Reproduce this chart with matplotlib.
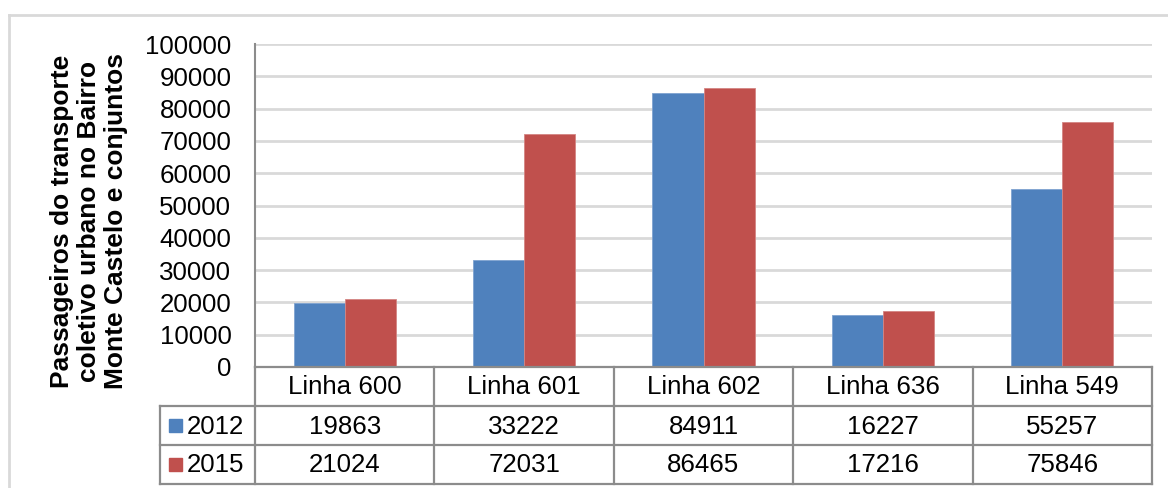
import matplotlib
matplotlib.use("Agg")
import matplotlib.pyplot as plt
from matplotlib.patches import Rectangle
from matplotlib.lines import Line2D

# Passenger counts per bus line
categories = ["Linha 600", "Linha 601", "Linha 602", "Linha 636", "Linha 549"]
series_names = ["2012", "2015"]
values_2012 = [19863, 33222, 84911, 16227, 55257]
values_2015 = [21024, 72031, 86465, 17216, 75846]
yticks = [0, 10000, 20000, 30000, 40000, 50000, 60000, 70000, 80000, 90000, 100000]
ylabel = "Passageiros do transporte\ncoletivo urbano no Bairro\nMonte Castelo e conjuntos"

colors = ["#4F81BD", "#C0504D"]
grid_color = "#D9D9D9"
line_color = "#8C8C8C"
font = ["Liberation Sans", "DejaVu Sans"]
plt.rcParams["font.family"] = font
fs = 18.6

W, H = 1168, 488
fig = plt.figure(figsize=(W / 100, H / 100), dpi=100)
fig.patch.set_facecolor("white")

# pixel layout of the plot area
px_left, px_right, px_top, px_bottom = 255, 1152, 44, 367
ax = fig.add_axes([px_left / W, 1 - px_bottom / H,
                   (px_right - px_left) / W, (px_bottom - px_top) / H])

n = len(categories)
bw = 0.285
xs = list(range(n))
ax.bar([x - bw / 2 for x in xs], values_2012, width=bw, color=colors[0],
       edgecolor="#7FA3D0", linewidth=0.6, zorder=3)
ax.bar([x + bw / 2 for x in xs], values_2015, width=bw, color=colors[1],
       edgecolor="#D48583", linewidth=0.6, zorder=3)
ax.set_xlim(-0.5, n - 0.5)
ax.set_ylim(0, 100000)
ax.set_yticks(yticks)
ax.set_yticklabels([str(t) for t in yticks], fontsize=fs)
ax.tick_params(axis="y", length=0, pad=17)
ax.set_xticks([])
ax.yaxis.grid(True, color=grid_color, linewidth=2)
ax.set_axisbelow(True)
for s in ["top", "right", "bottom"]:
    ax.spines[s].set_visible(False)
ax.spines["left"].set_color(line_color)
ax.spines["left"].set_linewidth(1.5)

# overlay in pixel coordinates for the data table and frame
ov = fig.add_axes([0, 0, 1, 1], facecolor="none")
ov.set_xlim(0, W)
ov.set_ylim(H, 0)
ov.axis("off")

# outer chart frame
ov.add_line(Line2D([9, 9], [15, H], color=grid_color, lw=2))
ov.add_line(Line2D([9, W], [15, 15], color=grid_color, lw=2))

# y label
ov.text(89, 221, ylabel, rotation=90, ha="center", va="center",
        fontsize=19, fontweight="bold", linespacing=1.15)

# data table
leg_left = 160
rows_y = [px_bottom, 406, 445, 484]
colw = (px_right - px_left) / n
tl = dict(color=line_color, lw=1.6)
ov.add_line(Line2D([px_left, px_right], [rows_y[0], rows_y[0]], **tl))
for yy in rows_y[1:]:
    ov.add_line(Line2D([leg_left, px_right], [yy, yy], **tl))
ov.add_line(Line2D([px_left, px_left], [rows_y[0], rows_y[-1]], **tl))
ov.add_line(Line2D([leg_left, leg_left], [rows_y[1], rows_y[-1]], **tl))
for i in range(1, n + 1):
    xx = px_left + i * colw
    ov.add_line(Line2D([xx, xx], [rows_y[0], rows_y[-1]], **tl))

for i, cat in enumerate(categories):
    cx = px_left + (i + 0.5) * colw
    ov.text(cx, (rows_y[0] + rows_y[1]) / 2 + 1, cat, ha="center", va="center", fontsize=fs)
    for r, vals in enumerate([values_2012, values_2015]):
        ov.text(cx, (rows_y[r + 1] + rows_y[r + 2]) / 2 + 1, str(vals[i]),
                ha="center", va="center", fontsize=fs)

for r, name in enumerate(series_names):
    yc = (rows_y[r + 1] + rows_y[r + 2]) / 2
    ov.add_patch(Rectangle((169, yc - 6.5), 13, 13, color=colors[r]))
    ov.text(187, yc + 1, name, ha="left", va="center", fontsize=fs)

fig.savefig("out.png", dpi=100, facecolor="white")
